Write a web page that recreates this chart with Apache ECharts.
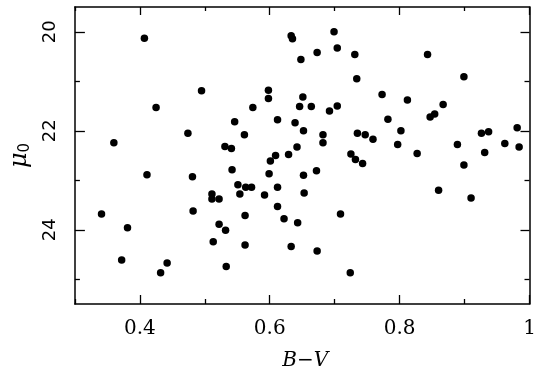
<!DOCTYPE html>
<html>
<head>
<meta charset="utf-8">
<script src="https://cdn.jsdelivr.net/npm/echarts@6/dist/echarts.min.js"></script>
<style>
html,body{margin:0;padding:0;background:#fff;}
#chart{width:542px;height:377px;}
</style>
</head>
<body>
<div id="chart"></div>
<script>
// B-V colour values
var bv = [0.341,0.360,0.372,0.381,0.407,0.411,0.425,0.432,0.442,0.474,
          0.481,0.482,0.495,0.511,0.511,0.522,0.513,0.522,0.532,0.531,
          0.541,0.533,0.542,0.546,0.551,0.554,0.561,0.562,0.562,0.563,
          0.572,0.574,0.592,0.598,0.598,0.599,0.601,0.609,0.612,0.612,
          0.612,0.622,0.629,0.633,0.635,0.633,0.639,0.642,0.643,0.648,
          0.651,0.646,0.652,0.652,0.653,0.664,0.673,0.672,0.673,0.682,
          0.682,0.692,0.699,0.704,0.704,0.709,0.725,0.732,0.743,0.724,
          0.731,0.734,0.735,0.747,0.759,0.773,0.782,0.797,0.802,0.812,
          0.827,0.843,0.847,0.854,0.860,0.867,0.889,0.899,0.899,0.910,
          0.926,0.937,0.931,0.962,0.981,0.984];
// mu_0 values
var mu0 = [23.68,22.24,24.61,23.96,20.13,22.89,21.53,24.87,24.67,22.05,
           22.93,23.62,21.19,23.28,23.38,23.38,24.24,23.89,24.01,22.32,
           22.36,24.74,22.79,21.82,23.09,23.28,22.08,23.71,24.31,23.14,
           23.14,21.53,23.30,21.18,21.35,22.87,22.61,22.50,21.78,23.14,
           23.53,23.78,22.48,20.08,20.14,24.34,21.84,22.33,23.86,20.56,
           21.32,21.51,22.00,22.90,23.26,21.51,20.42,22.81,24.43,22.08,
           22.24,21.60,20.00,20.33,21.50,23.68,22.47,22.58,22.66,24.87,
           20.46,20.95,22.05,22.08,22.17,21.27,21.77,22.28,22.00,21.38,
           22.46,20.46,21.72,21.66,23.20,21.47,22.28,20.91,22.69,23.36,
           22.05,22.02,22.44,22.26,21.94,22.33];
// tick values and labels
var xMajorTicks = [0.4, 0.6, 0.8, 1.0];
var xMinorTicks = [0.3, 0.5, 0.7, 0.9];
var xTickLabels = ['0.4', '0.6', '0.8', '1'];
var yMajorTicks = [20, 22, 24];
var yMinorTicks = [21, 23, 25];
var yTickLabels = ['20', '22', '24'];

var points = bv.map(function (v, i) { return [v, mu0[i]]; });

function labelFor(ticks, labels) {
  return function (v) {
    for (var i = 0; i < ticks.length; i++) {
      if (Math.abs(ticks[i] - v) < 1e-6) return labels[i];
    }
    return '';
  };
}

var lineStyle = {color: '#000', width: 1.5};
function xAx(pos, ticks, len, showLine, label) {
  return {
    type: 'value', position: pos, min: 0.3, max: 1.0,
    axisLine: {show: showLine, onZero: false, lineStyle: lineStyle},
    axisTick: {show: true, inside: true, length: len, customValues: ticks, lineStyle: {color: '#000', width: 1.3}},
    axisLabel: label ? {
      show: true, customValues: ticks, margin: 15,
      formatter: labelFor(xMajorTicks, xTickLabels),
      color: '#000', fontSize: 20, fontFamily: 'DejaVu Serif'
    } : {show: false},
    splitLine: {show: false}
  };
}
function yAx(pos, ticks, len, showLine, label) {
  return {
    type: 'value', position: pos, min: 19.5, max: 25.5, inverse: true,
    axisLine: {show: showLine, onZero: false, lineStyle: lineStyle},
    axisTick: {show: true, inside: true, length: len, customValues: ticks, lineStyle: {color: '#000', width: 1.3}},
    axisLabel: label ? {
      show: true, customValues: ticks, margin: 16, rotate: 90,
      formatter: labelFor(yMajorTicks, yTickLabels),
      color: '#000', fontSize: 18, fontFamily: 'DejaVu Sans'
    } : {show: false},
    splitLine: {show: false}
  };
}

var xAxes = [
  xAx('bottom', xMajorTicks, 9, true, true),
  xAx('bottom', xMinorTicks, 5, false, false),
  xAx('top', xMajorTicks, 8, true, false),
  xAx('top', xMinorTicks, 4, false, false)
];
xAxes[0].name = 'B\u2212V';
xAxes[0].nameLocation = 'middle';
xAxes[0].nameGap = 47;
xAxes[0].nameTextStyle = {color: '#000', fontSize: 20, fontStyle: 'italic', fontFamily: 'DejaVu Serif', padding: [0, 0, 0, 6]};

var yAxes = [
  yAx('left', yMajorTicks, 10, true, true),
  yAx('left', yMinorTicks, 5, false, false),
  yAx('right', yMajorTicks, 9, true, false),
  yAx('right', yMinorTicks, 5, false, false)
];
yAxes[0].name = '{m|\u03bc}{s|0}';
yAxes[0].nameLocation = 'middle';
yAxes[0].nameRotate = 90;
yAxes[0].nameGap = 35;
yAxes[0].nameTextStyle = {
  color: '#000',
  rich: {
    m: {fontSize: 24, fontStyle: 'italic', fontFamily: 'DejaVu Serif', color: '#000', lineHeight: 26, verticalAlign: 'middle'},
    s: {fontSize: 15, fontFamily: 'DejaVu Sans', color: '#000', lineHeight: 14, verticalAlign: 'bottom', padding: [10, 0, 0, 0]}
  }
};

var chart = echarts.init(document.getElementById('chart'), null, {renderer: 'canvas'});
chart.setOption({
  backgroundColor: '#fff',
  animation: false,
  grid: {left: 68.5, top: 7, right: 12.5, bottom: 73, containLabel: false},
  xAxis: xAxes,
  yAxis: yAxes,
  series: [{
    type: 'scatter',
    xAxisIndex: 0, yAxisIndex: 0,
    data: points,
    symbol: 'circle',
    symbolSize: 7.5,
    itemStyle: {color: '#000', opacity: 1}
  }]
});
</script>
</body>
</html>
